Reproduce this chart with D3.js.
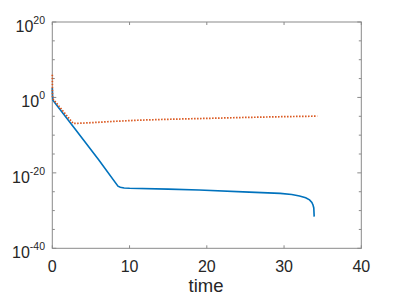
<!DOCTYPE html>
<html>
<head>
<meta charset="utf-8">
<script src="https://cdn.jsdelivr.net/npm/d3@7"></script>
<style>
  body { margin: 0; background: #fff; }
  text { font-family: "Liberation Sans", Arial, sans-serif; fill: #262626; }
</style>
</head>
<body>
<svg id="chart" width="399" height="298"></svg>
<script>
// blue (solid) series
const blueT = [0, 0.05, 3, 6, 8.5, 8.8, 9.3, 10, 15, 19, 25.5, 29.5, 31, 32, 32.8, 33.3, 33.6, 33.75, 33.85, 33.9];
const blueY = [3e2, 2e-1, 3e-9, 3e-17, 3e-24, 1.6e-24, 1e-24, 8e-25, 5e-25, 2.8e-25, 8e-26, 3.6e-26, 1.8e-26, 7e-27, 2.5e-27, 7e-28, 1.5e-28, 3e-29, 5e-30, 2.5e-32];

// red (dotted) series
const redT = [0, 0.03, 0.3, 2.7, 3.3, 5, 8, 11, 15, 20, 25, 30, 34.3];
const redY = [1e6, 6e-1, 1.2e-1, 1.3e-7, 1.4e-7, 2e-7, 4.5e-7, 9e-7, 1.6e-6, 2.8e-6, 5e-6, 8e-6, 1.1e-5];

const xTicks = [0, 10, 20, 30, 40];
const yMajor = [20, 0, -20, -40];          // exponents of labelled ticks
const yMinor = d3.range(-35, 20, 5).filter(e => e % 20 !== 0);

const svg = d3.select("#chart");
const x = d3.scaleLinear().domain([0, 40]).range([52.3, 361.3]);
const y = d3.scaleLog().domain([1e-40, 1e20]).range([248.3, 22]);

const x0 = x(0), x1 = x(40), y0 = y(1e20), y1 = y(1e-40);

// box
svg.append("rect")
    .attr("x", x0).attr("y", y0)
    .attr("width", x1 - x0).attr("height", y1 - y0)
    .attr("fill", "none").attr("stroke", "#8a8a8a").attr("stroke-width", 1);

// ticks (inside, on all four sides)
const tickColor = "#8a8a8a";
xTicks.forEach(t => {
    svg.append("line").attr("x1", x(t)).attr("x2", x(t)).attr("y1", y1).attr("y2", y1 - 3)
        .attr("stroke", tickColor);
    svg.append("line").attr("x1", x(t)).attr("x2", x(t)).attr("y1", y0).attr("y2", y0 + 3)
        .attr("stroke", tickColor);
});
yMajor.concat(yMinor).forEach(e => {
    const len = yMajor.includes(e) ? 4 : 2.5;
    const yy = y(Math.pow(10, e));
    svg.append("line").attr("x1", x0).attr("x2", x0 + len).attr("y1", yy).attr("y2", yy)
        .attr("stroke", tickColor);
    svg.append("line").attr("x1", x1).attr("x2", x1 - len).attr("y1", yy).attr("y2", yy)
        .attr("stroke", tickColor);
});

// x tick labels
svg.selectAll(".xlab")
    .data(xTicks)
    .enter().append("text")
    .attr("class", "xlab")
    .attr("x", d => x(d))
    .attr("y", 272)
    .attr("text-anchor", "middle")
    .style("font-size", "16px")
    .text(d => d);

// y tick labels 10^e
yMajor.forEach(e => {
    const t = svg.append("text")
        .attr("x", 45)
        .attr("y", y(Math.pow(10, e)) + 10)
        .attr("text-anchor", "end")
        .style("font-size", "16px");
    t.append("tspan").text("10");
    t.append("tspan").attr("dy", -8).style("font-size", "10.5px").text(e);
});

// x axis label
svg.append("text")
    .attr("x", 206)
    .attr("y", 292)
    .attr("text-anchor", "middle")
    .style("font-size", "18.5px")
    .text("time");

const line = d3.line()
    .x(d => x(d[0]))
    .y(d => y(d[1]));

svg.append("path")
    .datum(blueT.map((t, i) => [t, blueY[i]]))
    .attr("fill", "none")
    .attr("stroke", "#0072BD")
    .attr("stroke-width", 1.6)
    .attr("d", line);

svg.append("path")
    .datum(redT.map((t, i) => [t, redY[i]]))
    .attr("fill", "none")
    .attr("stroke", "#D95319")
    .attr("stroke-width", 1.7)
    .attr("stroke-dasharray", "1.5,1.5")
    .attr("d", line);
</script>
</body>
</html>
